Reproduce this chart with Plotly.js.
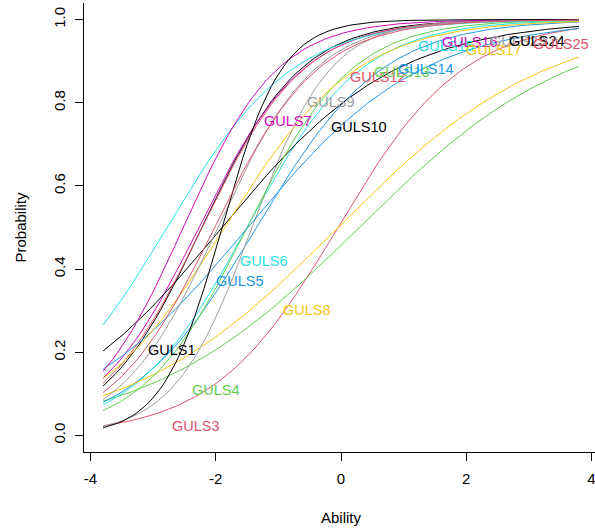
<!DOCTYPE html>
<html>
<head>
<meta charset="utf-8">
<script src="https://cdn.plot.ly/plotly-3.0.1.min.js"></script>
<style>html,body{margin:0;padding:0;overflow:hidden;background:#ffffff}</style>
</head>
<body>
<div id="chart" style="width:600px;height:529px"></div>
<script>
// Item labels (order of plotting)
const items = ["GULS1","GULS3","GULS4","GULS5","GULS6","GULS7","GULS8","GULS9","GULS10",
               "GULS12","GULS13","GULS14","GULS15","GULS16","GULS17","GULS23","GULS24","GULS25"];
// 2PL item parameters
const discrimination = [1.27, 1.00, 0.59, 1.00, 1.10, 1.20, 0.60, 1.60, 0.72,
                        1.23, 1.20, 0.72, 1.00, 1.33, 0.95, 1.29, 2.10, 1.215];
const difficulty     = [-2.22, -0.05, 0.29, -1.35, -1.50, -2.27, -0.05, -1.42, -1.90,
                        -2.22, -1.50, -1.49, -2.78, -2.52, -1.86, -1.97, -1.90, -2.02];
// label heights
const labelY = [0.205, 0.023, 0.110, 0.372, 0.420, 0.757, 0.302, 0.802, 0.742,
                0.862, 0.874, 0.882, 0.936, 0.947, 0.926, 0.948, 0.949, 0.941];
const palette = ["#000000","#DF536B","#61D04F","#2297E6","#28E2E5","#CD0BBC","#F5C710","#9E9E9E"];
const xTicks = [-4, -2, 0, 2, 4];
const yTicks = [0, 0.2, 0.4, 0.6, 0.8, 1.0];

const zMin = -3.8, zMax = 3.8, nZ = 100;
const z = [];
for (let i = 0; i < nZ; i++) z.push(zMin + i * (zMax - zMin) / (nZ - 1));

const FONT = "Liberation Sans, Arial, Helvetica, sans-serif";
const traces = [];
const annotations = [];
items.forEach((name, k) => {
  const a = discrimination[k], b = difficulty[k];
  const col = palette[k % palette.length];
  traces.push({
    x: z, y: z.map(t => 1 / (1 + Math.exp(-a * (t - b)))),
    type: "scatter", mode: "lines", name: name,
    line: {color: col, width: 1}, hoverinfo: "skip"
  });
  const pos = Math.round(10 + k * 80 / (items.length - 1));
  annotations.push({
    x: z[pos - 1], y: labelY[k], xref: "x", yref: "y",
    text: name, showarrow: false, xanchor: "left", yanchor: "middle",
    font: {family: FONT, size: 14.5, color: col}
  });
});

const layout = {
  width: 600, height: 529,
  margin: {l: 84, r: 2, t: 3, b: 77},
  paper_bgcolor: "#ffffff", plot_bgcolor: "#ffffff",
  showlegend: false,
  font: {family: FONT, size: 15, color: "#000000"},
  xaxis: {
    range: [-4.104, 4.104], showgrid: false, zeroline: false,
    showline: true, linecolor: "#000", linewidth: 1,
    ticks: "outside", ticklen: 8, tickcolor: "#000", tickwidth: 1,
    ticklabelstandoff: 5,
    tickvals: xTicks, ticktext: xTicks.map(String),
    title: {text: "Ability", font: {family: FONT, size: 15}, standoff: 26}
  },
  yaxis: {
    range: [-0.04, 1.04], showgrid: false, zeroline: false,
    showline: true, linecolor: "#000", linewidth: 1,
    ticks: "outside", ticklen: 8, tickcolor: "#000", tickwidth: 1,
    ticklabelstandoff: 4,
    tickvals: yTicks, ticktext: yTicks.map(v => v.toFixed(1)), tickangle: -90,
    title: {text: "Probability", font: {family: FONT, size: 15}, standoff: 20}
  },
  annotations: annotations
};
Plotly.newPlot("chart", traces, layout, {staticPlot: true, displayModeBar: false});
</script>
</body>
</html>
